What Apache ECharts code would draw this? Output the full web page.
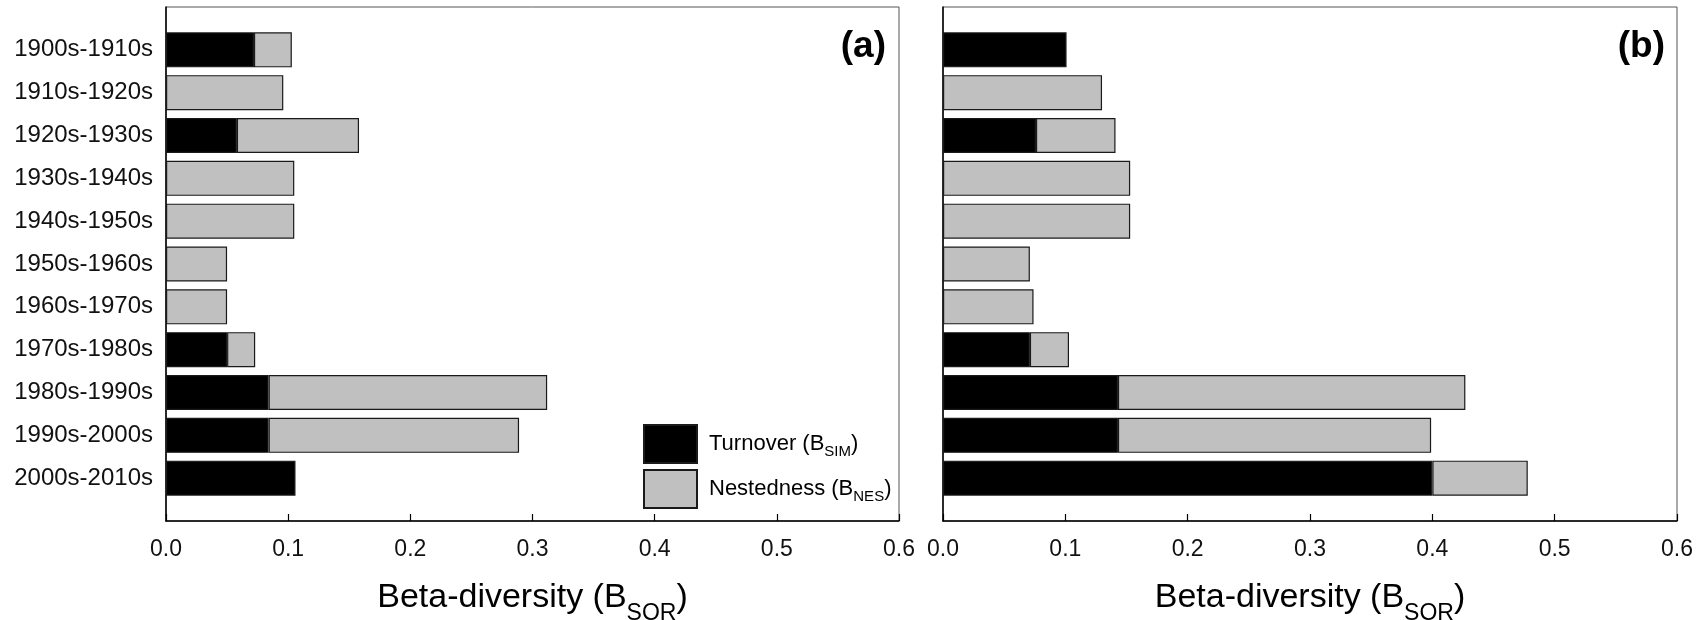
<!DOCTYPE html>
<html>
<head>
<meta charset="utf-8">
<script src="https://cdn.jsdelivr.net/npm/echarts@6/dist/echarts.min.js"></script>
<style>
html,body{margin:0;padding:0;background:#fff;}
#c{width:1707px;height:620px;}
</style>
</head>
<body>
<div id="c"></div>
<script>
// ---- data ----
const categories = ['1900s-1910s','1910s-1920s','1920s-1930s','1930s-1940s','1940s-1950s',
  '1950s-1960s','1960s-1970s','1970s-1980s','1980s-1990s','1990s-2000s','2000s-2010s'];
// panel (a)
const turnoverA   = [0.072, 0,     0.058, 0,     0,     0,     0,     0.050, 0.084, 0.084, 0.106];
const nestednessA = [0.031, 0.096, 0.100, 0.105, 0.105, 0.050, 0.050, 0.023, 0.228, 0.205, 0];
// panel (b)
const turnoverB   = [0.101, 0,     0.076, 0,     0,     0,     0,     0.071, 0.143, 0.143, 0.400];
const nestednessB = [0,     0.130, 0.065, 0.153, 0.153, 0.071, 0.074, 0.032, 0.284, 0.256, 0.078];
// x tick labels
const xTickLabels = ['0.0','0.1','0.2','0.3','0.4','0.5','0.6'];
const panelLabels = ['(a)','(b)'];

const FONT = "'Liberation Sans', Arial, Helvetica, sans-serif";
const yCats = [''].concat(categories, ['']);
const pad = arr => [null].concat(arr.map(v => (v === 0 ? '-' : v)), [null]);

const nameRich = {
  m: {fontSize: 34, lineHeight: 34, verticalAlign: 'top', fontFamily: FONT, color: '#000'},
  s: {fontSize: 23, lineHeight: 23, padding: [21, 0, 0, 0], verticalAlign: 'top', fontFamily: FONT, color: '#000'}
};

const grids = [
  {left: 166, top: 7, width: 733, height: 514},
  {left: 943, top: 7, width: 734, height: 514}
].map(g => Object.assign(g, {show: true, borderColor: '#555', borderWidth: 1, backgroundColor: 'transparent',
  containLabel: false, outerBoundsMode: 'none'}));

const xAxes = [0, 1].map(i => ({
  type: 'value', gridIndex: i, min: 0, max: 0.6, interval: 0.1,
  axisLine: {show: true, onZero: false, lineStyle: {color: '#000', width: 1.5}},
  axisTick: {show: true, inside: true, length: 7, lineStyle: {color: '#000', width: 1.2}},
  splitLine: {show: false},
  axisLabel: {fontSize: 23, margin: 17, color: '#111', fontFamily: FONT,
    formatter: v => xTickLabels[Math.round(v * 10)]},
  name: '{m|Beta-diversity (B}{s|SOR}{m|)}',
  nameLocation: 'middle', nameGap: 60,
  nameTextStyle: {rich: nameRich}
}));

const yAxes = [0, 1].map(i => ({
  type: 'category', gridIndex: i, data: yCats, inverse: true, boundaryGap: false,
  axisLine: {show: true, onZero: false, lineStyle: {color: '#000', width: 1.5}},
  axisTick: {show: false},
  splitLine: {show: false},
  axisLabel: {show: i === 0, interval: 0, fontSize: 24, margin: 13, color: '#111', fontFamily: FONT}
}));

function barSeries(name, data, gi, color) {
  return {
    type: 'bar', name: name, xAxisIndex: gi, yAxisIndex: gi, stack: 'p' + gi,
    data: pad(data), barWidth: 35,
    itemStyle: {color: color, borderColor: '#1a1a1a', borderWidth: 1.2},
    emphasis: {disabled: true}
  };
}

const legendRich = {
  g: {width: 7, fontSize: 10},
  m: {fontSize: 22, lineHeight: 22, verticalAlign: 'top', fontFamily: FONT, color: '#000'},
  s: {fontSize: 15, lineHeight: 15, padding: [11, 0, 0, 0], verticalAlign: 'top', fontFamily: FONT, color: '#000'}
};

const option = {
  animation: false,
  backgroundColor: '#fff',
  textStyle: {fontFamily: FONT},
  title: panelLabels.map((t, i) => ({
    text: t, right: i === 0 ? 821 : 42, top: 28, padding: 0,
    textStyle: {fontSize: 37, fontWeight: 'bold', fontFamily: FONT, color: '#000'}
  })),
  grid: grids,
  xAxis: xAxes,
  yAxis: yAxes,
  legend: {
    left: 643, top: 424, orient: 'vertical', padding: 0,
    itemWidth: 53, itemHeight: 38, itemGap: 5, icon: 'rect',
    data: ['Turnover', 'Nestedness'],
    selectedMode: false,
    formatter: n => n === 'Turnover' ? '{g| }{m|Turnover (B}{s|SIM}{m|)}' : '{g| }{m|Nestedness (B}{s|NES}{m|)}',
    textStyle: {rich: legendRich}
  },
  series: [
    barSeries('Turnover', turnoverA, 0, '#000000'),
    barSeries('Nestedness', nestednessA, 0, '#c0c0c0'),
    barSeries('Turnover', turnoverB, 1, '#000000'),
    barSeries('Nestedness', nestednessB, 1, '#c0c0c0')
  ]
};

const chart = echarts.init(document.getElementById('c'), null, {renderer: 'canvas'});
chart.setOption(option);
</script>
</body>
</html>
